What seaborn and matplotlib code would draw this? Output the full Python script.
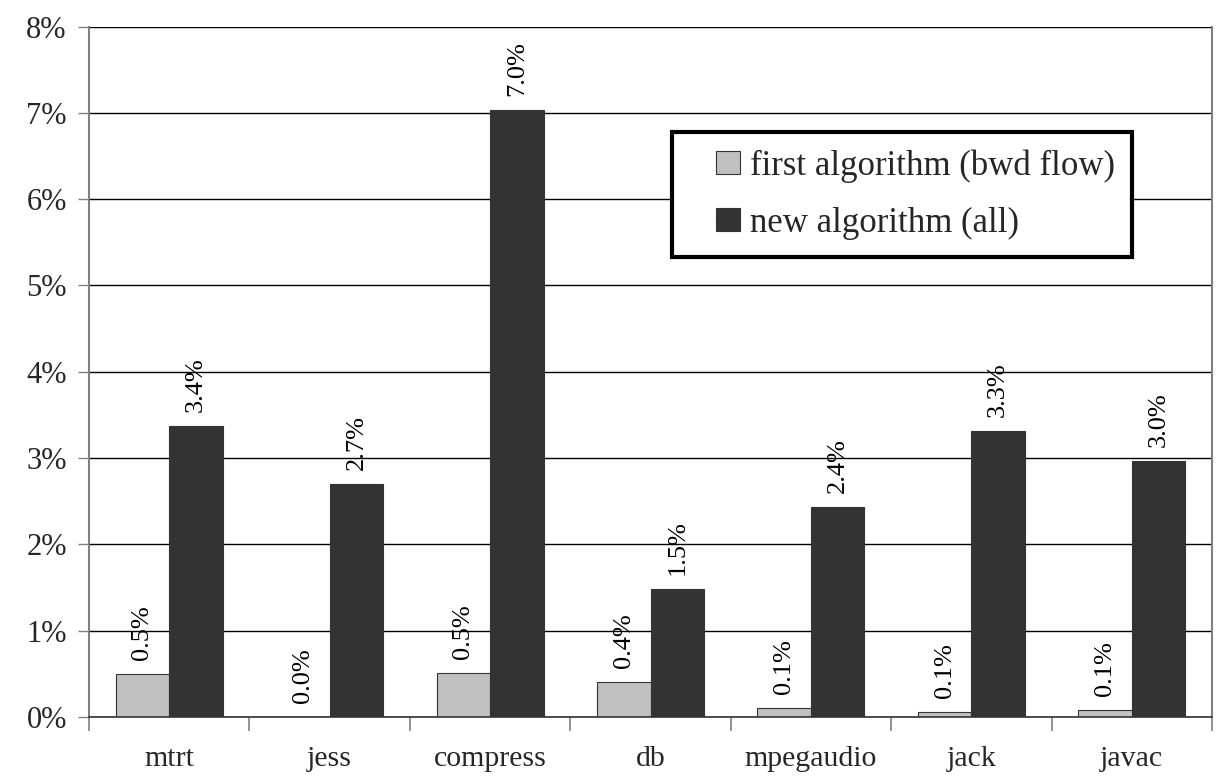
import matplotlib
matplotlib.use("Agg")
import matplotlib.pyplot as plt
from matplotlib.patches import Rectangle
from matplotlib.legend_handler import HandlerPatch
import seaborn as sns
import pandas as pd
import numpy as np

# Benchmarks and the share measured for each algorithm (percent)
benchmarks = ["mtrt", "jess", "compress", "db", "mpegaudio", "jack", "javac"]
first_alg = [0.50, 0.00, 0.51, 0.41, 0.11, 0.06, 0.08]
new_alg = [3.37, 2.70, 7.03, 1.48, 2.43, 3.31, 2.97]
series_names = ["first algorithm (bwd flow)", "new algorithm (all)"]
y_ticks = [0, 1, 2, 3, 4, 5, 6, 7, 8]

df = pd.DataFrame({
    "benchmark": benchmarks * 2,
    "value": first_alg + new_alg,
    "series": [series_names[0]] * len(benchmarks) + [series_names[1]] * len(benchmarks),
})

sns.set_theme(style="white")
plt.rcParams["font.family"] = ["Liberation Serif", "DejaVu Serif"]

W, H = 1231, 779
fig = plt.figure(figsize=(W / 100, H / 100), dpi=100)
left, right, top, bottom = 89, 1212, 26.5, 717
ax = fig.add_axes([left / W, (H - bottom) / H, (right - left) / W, (bottom - top) / H])

sns.barplot(
    data=df, x="benchmark", y="value", hue="series",
    order=benchmarks, hue_order=series_names,
    palette=["#c0c0c0", "#333333"], width=0.667,
    edgecolor="#333333", linewidth=0.8, saturation=1, ax=ax, legend=True,
)

# value labels above each bar, rotated vertically
for cont in ax.containers:
    ax.bar_label(cont, labels=[f"{v:.1f}%" for v in cont.datavalues],
                 rotation=90, padding=10, fontsize=19, color="black")

ax.set_xlim(-0.5, len(benchmarks) - 0.5)
ax.set_ylim(0, 8)
ax.set_yticks(y_ticks)
ax.set_yticklabels([f"{t}%" for t in y_ticks], fontsize=22)
ax.yaxis.grid(True, color="black", linewidth=1.0)
ax.set_axisbelow(True)

ax.set_xlabel("")
ax.set_ylabel("")
ax.tick_params(axis="x", which="major", length=0, pad=21, labelsize=21.5)
ax.set_xticks(np.arange(-0.5, len(benchmarks)), minor=True)
ax.tick_params(axis="x", which="minor", length=10, width=1.2, color="#808080", direction="out", bottom=True)
ax.tick_params(axis="y", which="major", length=8, width=1.0, color="#808080", direction="out", left=True, pad=8)

for s in ["left", "right"]:
    ax.spines[s].set_color("#808080")
    ax.spines[s].set_linewidth(1.5)
ax.spines["bottom"].set_color("#333333")
ax.spines["bottom"].set_linewidth(1.2)
ax.spines["top"].set_visible(False)


def square_handle(legend, orig_handle, xdescent, ydescent, width, height, fontsize):
    # small square swatch placed at the right end of the handle box
    return Rectangle((-xdescent + width - height, -ydescent), height, height)


leg = ax.legend(loc="upper left", bbox_to_anchor=(0.519, 0.847), borderaxespad=0,
                fontsize=25, frameon=True, fancybox=False, handlelength=1.45,
                handleheight=0.65, handletextpad=0.3, labelspacing=0.68,
                borderpad=0.5, title=None,
                handler_map={Rectangle: HandlerPatch(patch_func=square_handle)})
leg.get_frame().set_edgecolor("black")
leg.get_frame().set_linewidth(3.0)
leg.get_frame().set_facecolor("white")
leg.get_frame().set_alpha(1)

fig.savefig("out.png", dpi=100)
